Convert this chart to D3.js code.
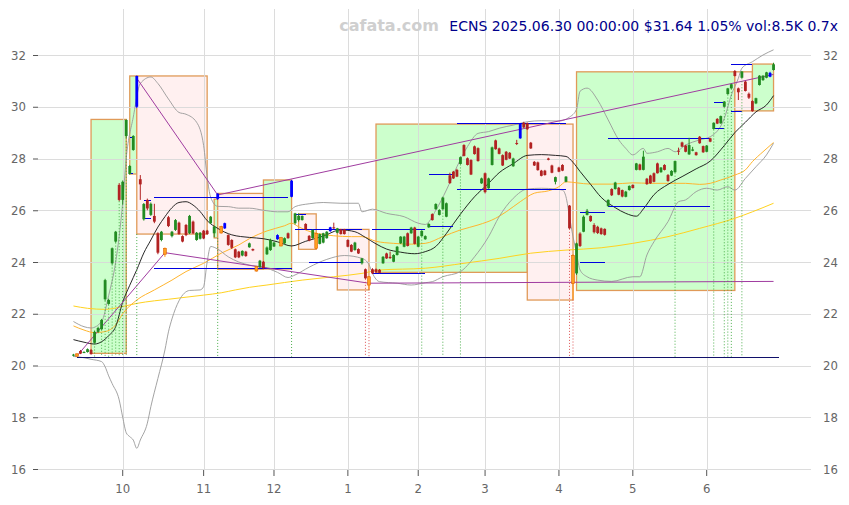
<!DOCTYPE html>
<html><head><meta charset="utf-8">
<script src="https://cdn.jsdelivr.net/npm/d3@7"></script>
<style>body{margin:0;background:#fff;} svg{display:block;}</style>
</head><body>
<svg id="c" width="849" height="505"></svg>
<script>
// ---------------- DATA ----------------
const firstDay = "2024-09-11", lastDay = "2025-06-30";
const holidays = ["2024-11-28","2024-12-25","2025-01-01","2025-01-09","2025-01-20","2025-02-17","2025-04-18","2025-05-26","2025-06-19"];
const monthLabels = ["10","11","12","1","2","3","4","5","6"];
const yTicks = [16,18,20,22,24,26,28,30,32];

const open = [
20.38,20.45,20.56,20.50,20.52,20.60,20.88,21.30,21.40,22.56,
22.38,23.95,24.79,26.98,26.40,28.87,27.40,28.33,30.00,27.20,
25.65,26.40,25.82,25.78,25.11,24.85,24.53,25.73,25.00,25.24,
25.52,25.00,25.43,25.11,25.56,24.85,24.90,25.21,25.21,25.50,
25.11,26.44,25.37,25.30,25.04,24.85,24.49,24.40,24.25,24.40,
24.57,24.50,23.82,23.80,24.01,24.30,24.46,24.60,24.88,24.94,
24.72,25.11,26.52,25.50,25.62,25.62,25.47,25.01,24.92,25.11,
24.70,24.75,24.92,25.19,25.34,25.13,25.26,25.26,24.85,24.66,
24.46,24.50,23.95,23.72,23.43,23.72,23.72,23.70,23.95,24.33,
24.20,24.01,24.27,24.72,24.59,25.11,25.11,25.33,24.59,25.00,
24.88,25.34,25.85,26.04,25.82,26.04,25.75,27.35,27.49,27.56,
27.79,28.52,28.01,27.94,28.47,28.40,27.04,27.43,26.85,27.75,
28.70,28.39,28.13,28.26,28.22,27.70,28.60,28.78,29.38,29.36,
28.61,27.87,27.85,27.53,27.53,28.00,27.73,27.10,27.65,27.75,
27.10,26.18,24.25,23.56,25.10,25.17,25.82,25.78,25.43,25.36,
25.30,25.28,26.16,26.82,26.82,26.87,26.78,26.52,26.78,26.98,
27.56,27.77,27.56,27.22,27.34,27.43,27.81,27.47,27.75,27.36,
27.34,27.47,28.30,28.62,28.50,28.16,28.30,28.24,28.84,28.48,
28.26,28.78,29.14,29.53,29.36,30.00,30.49,30.71,31.38,30.71,
31.12,30.97,30.50,30.22,30.13,30.84,31.03,31.12,31.16,31.42];
const high = [
20.45,20.48,20.60,20.55,20.66,20.64,21.35,21.50,21.80,23.35,
22.58,24.56,25.20,27.05,27.15,29.51,27.75,28.90,31.20,27.36,
26.28,26.45,26.30,26.25,25.15,25.20,24.56,25.78,25.20,25.66,
25.56,25.03,25.47,25.82,25.60,25.16,25.16,25.24,25.24,25.78,
25.40,26.66,25.40,25.52,25.07,24.88,24.52,24.43,24.45,24.43,
24.75,24.52,23.85,24.08,24.04,24.60,24.90,24.78,25.07,24.97,
24.95,25.14,27.17,25.90,25.88,25.80,25.50,25.04,25.26,25.14,
25.10,25.13,25.19,25.36,25.52,25.32,25.28,25.28,24.88,24.69,
24.78,24.53,24.16,23.75,23.46,23.76,23.75,23.73,24.23,24.36,
24.40,24.30,24.62,25.00,25.01,25.14,25.36,25.36,25.01,25.23,
25.03,25.50,25.88,26.27,26.04,26.52,26.30,27.45,27.52,27.60,
28.08,28.55,28.04,27.97,28.50,28.43,27.26,27.46,27.26,28.46,
28.73,28.42,28.16,28.29,28.25,28.03,28.72,29.36,29.42,29.39,
28.64,27.90,27.88,27.56,27.56,28.03,27.76,27.30,27.68,27.78,
27.32,26.20,24.30,24.75,25.15,25.80,26.05,25.80,25.50,25.40,
25.33,25.30,26.42,26.85,27.10,26.90,26.80,26.75,26.96,27.00,
27.83,27.80,28.30,27.25,27.37,27.46,27.84,27.67,27.78,27.40,
27.55,27.92,28.42,28.65,28.53,28.80,28.45,28.26,28.87,28.50,
28.52,28.80,29.40,29.56,29.66,30.22,30.73,30.89,31.42,30.74,
31.38,31.00,30.55,30.25,30.35,31.22,31.22,31.35,31.35,31.70];
const low = [
20.35,20.33,20.44,20.48,20.50,20.42,20.85,21.25,21.38,22.50,
22.35,23.90,24.75,26.35,26.24,28.80,27.38,28.30,29.95,26.40,
25.60,26.00,25.78,25.50,24.30,24.80,24.20,25.35,24.95,25.20,
25.05,24.76,25.00,25.08,25.08,24.82,24.87,24.88,25.05,25.47,
24.95,26.40,25.10,25.28,24.63,24.50,24.15,24.15,24.22,24.20,
24.55,24.42,23.63,23.76,23.74,24.27,24.43,24.58,24.86,24.60,
24.70,24.90,26.50,25.45,25.56,25.60,25.24,24.80,24.90,24.50,
24.68,24.72,24.90,25.17,25.28,25.11,25.06,25.06,24.57,24.38,
24.44,24.31,23.90,23.35,22.95,23.54,23.58,23.56,23.93,24.12,
24.12,23.99,24.25,24.70,24.57,24.60,25.09,24.68,24.57,24.98,
24.86,25.32,25.60,26.02,25.80,26.02,25.73,27.02,27.21,27.28,
27.77,28.08,27.73,27.36,28.15,27.88,27.02,26.65,26.83,27.73,
28.34,28.16,27.71,27.93,27.98,27.68,28.52,28.76,29.18,29.11,
28.37,27.71,27.53,27.31,27.34,27.93,27.43,27.00,27.47,27.51,
27.08,25.28,22.55,23.50,24.58,25.15,25.80,25.55,25.10,25.08,
25.05,25.02,26.14,26.55,26.80,26.58,26.50,26.50,26.76,26.84,
27.54,27.54,27.54,26.98,27.02,27.08,27.42,27.45,27.54,27.10,
27.32,27.45,28.14,28.44,28.24,28.14,28.28,28.11,28.57,28.22,
28.24,28.63,29.12,29.33,29.34,29.98,30.47,30.69,31.17,30.26,
31.10,30.59,30.30,29.81,30.10,30.82,31.00,31.10,31.14,31.40];
const close = [
20.42,20.36,20.46,20.52,20.63,20.44,21.30,21.45,21.76,23.30,
22.53,24.53,25.17,26.40,27.10,29.49,27.71,28.87,31.19,27.00,
26.24,26.07,26.25,25.56,24.36,25.17,24.30,25.39,25.17,25.62,
25.08,24.79,25.04,25.78,25.11,25.13,25.13,24.91,25.08,25.75,
25.37,26.64,25.12,25.50,24.66,24.55,24.18,24.18,24.43,24.23,
24.72,24.45,23.65,24.05,23.76,24.56,24.85,24.75,25.04,24.62,
24.92,24.92,27.14,25.88,25.78,25.78,25.26,24.83,25.24,24.53,
25.08,25.11,25.17,25.34,25.30,25.30,25.08,25.08,24.59,24.40,
24.75,24.33,24.14,23.37,23.11,23.56,23.60,23.58,24.20,24.14,
24.15,24.27,24.59,24.98,24.98,24.62,25.33,24.70,24.98,25.20,
25.00,25.47,25.62,26.24,26.01,26.49,26.27,27.05,27.23,27.30,
28.05,28.10,27.75,27.38,28.17,27.90,27.23,26.70,27.23,28.43,
28.36,28.18,27.73,27.95,28.00,28.00,28.56,29.33,29.20,29.13,
28.39,27.73,27.55,27.33,27.36,27.95,27.45,27.28,27.49,27.53,
27.30,25.30,23.17,24.72,24.62,25.75,25.98,25.58,25.15,25.12,
25.08,25.05,26.40,26.58,27.07,26.60,26.53,26.72,26.94,26.86,
27.81,27.56,28.07,27.01,27.04,27.10,27.43,27.65,27.56,27.13,
27.52,27.90,28.28,28.46,28.26,28.52,28.35,28.13,28.59,28.24,
28.50,28.65,29.38,29.35,29.64,30.20,30.71,30.87,31.19,30.56,
31.36,30.61,30.35,29.83,30.33,31.20,31.20,31.33,31.31,31.64];

// highlighted candles
const blueCandles = [18,41,43,58,62,73,127,198];
const orangeCandles = [1,26,42,52,59,69,84,142];

// boxes: [startIdx, endIdx, price1, price2, kind]
const boxes = [
 [5,15,20.47,29.51,"up"],[16,18,27.40,31.19,"up"],[18,38,31.19,25.08,"down"],
 [40,41,24.93,26.43,"up"],[41,54,26.65,23.72,"down"],[54,62,23.73,27.17,"up"],
 [64,69,25.86,24.49,"down"],[75,84,25.26,22.92,"down"],[86,129,23.60,29.33,"up"],
 [129,142,29.33,22.53,"down"],[143,188,22.90,31.35,"up"],[188,193,31.35,29.84,"down"],
 [193,199,29.84,31.65,"up"]];

// horizontal levels: [startIdx, endIdx, price]
const levels = [
 [16,17,28.82],[16,17,27.43],[20,22,26.40],[20,22,25.69],[23,61,26.50],[23,62,23.76],
 [63,66,25.86],[63,82,25.29],[67,82,24.00],[85,100,25.26],[85,100,23.56],
 [101,108,27.40],[101,108,25.39],[109,140,26.81],[109,140,29.36],
 [144,151,25.92],[144,151,23.99],[152,181,28.78],[152,181,26.18],
 [182,185,29.17],[182,185,30.17],[187,193,31.64],[187,190,29.84]];
const lowestLine = [1,199,20.34];

// trend lines: [i1, p1, i2, p2]
const trendLines = [
 [1,20.37,26,24.36],[26,24.36,84,23.18],[84,23.18,199,23.25],
 [18,31.10,41,26.59],[41,26.59,199,31.25]];

// signal dotted lines: [idx, fromPrice, kind]
const signals = [
 [6,20.85,"g"],[8,21.38,"g"],[9,22.50,"g"],[10,22.35,"g"],[11,23.90,"g"],[12,24.75,"g"],
 [13,26.35,"g"],[14,26.24,"g"],[15,28.80,"g"],[18,25.08,"g"],[41,24.93,"g"],[62,23.73,"g"],
 [83,23.35,"r"],[84,22.95,"r"],[99,24.98,"g"],[105,26.02,"g"],[110,27.77,"g"],
 [141,25.28,"r"],[142,22.55,"r"],[171,27.45,"g"],[182,29.12,"g"],[185,29.98,"g"],
 [186,30.47,"g"],[187,30.69,"g"],[190,31.10,"g"]];
const signalBase = 20.34;

// indicator lines: [idx, value]
const ma20 = [[0,21.0],[3,20.9],[6,20.83],[8,20.92],[10,21.15],[12,21.5],[14,22.45],[16,23.1],[18,23.7],[20,24.35],[22,24.85],[24,25.35],[26,25.75],[28,26.1],[30,26.3],[32,26.33],[34,26.2],[36,25.95],[38,25.6],[41,25.3],[45,25.05],[50,24.95],[54,24.9],[58,24.78],[62,24.62],[66,24.8],[71,25.0],[76,25.24],[80,25.17],[83,24.95],[86,24.7],[89,24.5],[93,24.38],[97,24.32],[100,24.4],[103,24.6],[106,25.1],[110,25.85],[114,26.52],[118,27.04],[121,27.45],[125,27.8],[129,28.12],[133,28.15],[137,28.12],[140,28.08],[142,27.85],[144,27.5],[147,27.0],[150,26.5],[154,26.1],[157,25.88],[160,25.77],[162,26.05],[165,26.6],[169,27.0],[173,27.3],[177,27.6],[181,27.9],[185,28.5],[188,29.0],[191,29.4],[194,29.8],[197,30.07],[199,30.43]];
const bbUpper = [[0,21.7],[3,21.5],[5,21.45],[8,21.7],[10,22.7],[12,24.0],[13,25.0],[14,26.3],[15,28.0],[17,29.6],[19,30.9],[22,31.15],[24,30.9],[27,30.3],[30,29.78],[32,29.71],[35,29.4],[37,28.5],[38,27.3],[39,26.5],[41,26.15],[44,26.14],[47,26.08],[50,26.08],[54,26.0],[58,25.94],[61,25.94],[63,26.14],[67,26.25],[71,26.3],[76,26.27],[81,26.27],[82,25.94],[85,26.04],[89,25.88],[94,25.75],[98,25.5],[100,25.45],[103,26.0],[106,26.78],[109,27.68],[112,28.46],[115,28.97],[118,29.04],[121,29.17],[125,29.29],[129,29.42],[133,29.46],[138,29.45],[141,29.6],[143,29.9],[144,30.6],[146,30.72],[149,30.26],[152,29.49],[155,28.72],[157,28.39],[159,28.14],[162,28.39],[163,28.2],[166,28.26],[169,28.39],[171,28.26],[174,28.52],[178,28.72],[181,28.84],[185,29.55],[187,30.45],[189,31.1],[190,31.49],[193,31.74],[196,32.0],[199,32.2]];
const bbLower = [[0,20.35],[3,20.3],[5,20.24],[8,20.15],[9,19.95],[10,19.6],[11,19.3],[13,18.67],[14,18.0],[15,17.4],[16,17.25],[17,17.12],[18,16.8],[19,17.12],[21,17.77],[22,18.41],[24,19.5],[26,20.6],[27,21.3],[28,21.8],[30,22.5],[33,22.9],[36,22.92],[37,23.05],[38,24.0],[39,24.6],[41,24.5],[44,24.2],[47,24.0],[50,23.88],[54,23.8],[58,23.6],[61,23.4],[63,23.5],[67,23.8],[72,24.1],[77,24.25],[82,24.14],[84,23.9],[85,23.56],[87,23.24],[92,23.18],[96,23.11],[100,23.2],[102,23.24],[105,23.43],[110,23.63],[114,24.2],[118,24.98],[121,25.75],[125,26.46],[129,26.82],[133,26.85],[137,26.82],[139,26.78],[140,26.52],[141,25.75],[142,24.98],[143,24.34],[144,23.69],[146,23.43],[149,23.3],[153,23.25],[159,23.43],[161,23.43],[163,24.27],[165,24.78],[169,25.56],[172,26.33],[174,26.4],[177,26.72],[180,26.85],[183,26.78],[186,26.91],[188,26.78],[191,27.23],[194,27.68],[197,28.14],[199,28.59]];
const ma50 = [[0,21.53],[3,21.37],[6,21.27],[9,21.31],[12,21.57],[14,22.0],[18,22.53],[23,22.92],[28,23.3],[32,23.63],[37,23.95],[42,24.34],[47,24.66],[50,24.9],[55,25.2],[60,25.4],[62,25.5],[64,25.36],[69,25.11],[79,24.98],[82,24.98],[86,24.8],[91,24.72],[96,24.69],[100,24.72],[105,24.98],[110,25.24],[115,25.43],[120,25.69],[123,25.94],[127,26.33],[131,26.66],[135,26.75],[138,26.91],[140,27.1],[143,27.06],[147,27.01],[153,27.01],[159,27.06],[164,27.04],[174,27.04],[178,27.0],[181,27.04],[184,27.17],[188,27.36],[191,27.56],[193,27.88],[196,28.26],[199,28.62]];
const ma200 = [[0,22.3],[4,22.21],[9,22.17],[13,22.25],[18,22.4],[23,22.5],[27,22.56],[32,22.64],[37,22.72],[42,22.81],[46,22.92],[50,23.02],[55,23.11],[65,23.3],[74,23.43],[82,23.56],[87,23.69],[100,23.76],[111,23.95],[121,24.14],[130,24.34],[140,24.46],[150,24.55],[159,24.72],[169,24.98],[178,25.3],[188,25.69],[193,25.94],[199,26.27]];

const titleText = "ECNS 2025.06.30 00:00:00 $31.64 1.05% vol:8.5K 0.7x";
const watermark = "cafata.com";

// ---------------- CHART ----------------
function tradingDays(a, b){
  const out = [];
  const d = new Date(a + "T00:00:00Z"), e = new Date(b + "T00:00:00Z");
  while (d <= e) {
    const s = d.toISOString().slice(0,10), wd = d.getUTCDay();
    if (wd !== 0 && wd !== 6 && !holidays.includes(s)) out.push(s);
    d.setUTCDate(d.getUTCDate() + 1);
  }
  return out;
}
const dates = tradingDays(firstDay, lastDay);
const candles = dates.map((d,i)=>({date:d,i,o:open[i],h:high[i],l:low[i],c:close[i]}));

const svg = d3.select("#c");
const x = d3.scaleBand().domain(dates).range([71.7, 775.3]).padding(0);
const y = d3.scaleLinear().domain([16,32]).range([469,55]);
const xi = i => x(dates[i]) + x.bandwidth()/2;
const plotL = 38, plotR = 811, plotT = 9;
const crisp = v => Math.round(v) + 0.5;

const monthStarts = [];
dates.forEach((d,i)=>{ if(i>0 && d.slice(5,7)!==dates[i-1].slice(5,7)) monthStarts.push(d); });

// boxes
svg.append("g").selectAll("rect").data(boxes).join("rect")
  .attr("x", d=>xi(d[0])).attr("width", d=>xi(d[1])-xi(d[0]))
  .attr("y", d=>y(Math.max(d[2],d[3]))).attr("height", d=>Math.abs(y(d[2])-y(d[3])))
  .attr("fill", d=>d[4]==="up" ? "#ccffcc" : "#fff0f0")
  .attr("stroke", "#e09a58").attr("stroke-width", 1.3);

// grid
const grid = svg.append("g").attr("stroke","#d9d9d9").attr("stroke-width",1).attr("opacity",0.9);
grid.selectAll(".h").data(yTicks).join("line").attr("class","h")
  .attr("x1",plotL).attr("x2",plotR).attr("y1",d=>crisp(y(d))).attr("y2",d=>crisp(y(d)));
grid.selectAll(".v").data(monthStarts).join("line").attr("class","v")
  .attr("x1",d=>crisp(x(d)+x.bandwidth()/2)).attr("x2",d=>crisp(x(d)+x.bandwidth()/2))
  .attr("y1",plotT).attr("y2",y(16));

// axes
const axisFont = "'DejaVu Sans Condensed','DejaVu Sans',sans-serif";
function styleAxis(g){
  g.select(".domain").remove();
  g.selectAll("text").attr("fill","#666").style("font-family",axisFont).style("font-size","13px");
  g.selectAll(".tick line").attr("stroke","#555");
}
svg.append("g").attr("transform",`translate(${plotL},0)`)
  .call(d3.axisLeft(y).tickValues(yTicks).tickSize(5).tickPadding(7)).call(styleAxis);
svg.append("g").attr("transform",`translate(${plotR},0)`)
  .call(d3.axisRight(y).tickValues(yTicks).tickSize(0).tickPadding(12)).call(styleAxis);
svg.append("g").attr("transform",`translate(0,${y(16)+1})`)
  .call(d3.axisBottom(x).tickValues(monthStarts).tickFormat((d,k)=>monthLabels[k]).tickSize(6).tickPadding(8))
  .call(styleAxis);

// indicator lines
const line = d3.line().x(d=>xi(d[0])).y(d=>y(d[1])).curve(d3.curveMonotoneX);
const ind = svg.append("g").attr("fill","none");
ind.append("path").attr("d",line(ma200)).attr("stroke","#ffd21f").attr("stroke-width",1);
ind.append("path").attr("d",line(ma50)).attr("stroke","#ffb52e").attr("stroke-width",1);
ind.append("path").attr("d",line(bbUpper)).attr("stroke","#999").attr("stroke-width",0.9);
ind.append("path").attr("d",line(bbLower)).attr("stroke","#999").attr("stroke-width",0.9);
ind.append("path").attr("d",line(ma20)).attr("stroke","#111").attr("stroke-width",0.9);

// levels
svg.append("g").attr("shape-rendering","crispEdges").selectAll("line").data(levels).join("line")
  .attr("x1",d=>xi(d[0])).attr("x2",d=>xi(d[1]))
  .attr("y1",d=>crisp(y(d[2]))).attr("y2",d=>crisp(y(d[2])))
  .attr("stroke","#0000e0").attr("stroke-width",1);
svg.append("line").attr("shape-rendering","crispEdges")
  .attr("x1",xi(lowestLine[0])).attr("x2",xi(lowestLine[1])+5)
  .attr("y1",crisp(y(lowestLine[2]))).attr("y2",crisp(y(lowestLine[2])))
  .attr("stroke","#10106a").attr("stroke-width",1);

// trend lines
svg.append("g").selectAll("line").data(trendLines).join("line")
  .attr("x1",d=>xi(d[0])).attr("y1",d=>y(d[1])).attr("x2",d=>xi(d[2])).attr("y2",d=>y(d[3]))
  .attr("stroke","#a03ca0").attr("stroke-width",1);

// signals
svg.append("g").selectAll("line").data(signals).join("line")
  .attr("x1",d=>xi(d[0])).attr("x2",d=>xi(d[0]))
  .attr("y1",d=>y(d[1])).attr("y2",y(signalBase))
  .attr("stroke",d=>d[2]==="g"?"#3aa63a":"#d94040").attr("stroke-width",0.9)
  .attr("stroke-dasharray","1,2");

// candles
const bw = x.bandwidth()*0.8;
const colorOf = d => blueCandles.includes(d.i) ? "#0000ff" : (d.c>=d.o ? "#228b22" : "#b22222");
const cg = svg.append("g");
cg.selectAll("line").data(candles).join("line")
  .attr("x1",d=>xi(d.i)).attr("x2",d=>xi(d.i))
  .attr("y1",d=>y(d.h)).attr("y2",d=>y(d.l))
  .attr("stroke",d=>orangeCandles.includes(d.i)?"#ff8c00":colorOf(d)).attr("stroke-width",1);
cg.selectAll("rect").data(candles).join("rect")
  .attr("x",d=>xi(d.i)-bw/2).attr("width",bw)
  .attr("y",d=>y(Math.max(d.o,d.c)))
  .attr("height",d=>Math.max(1,Math.abs(y(d.o)-y(d.c))))
  .attr("fill",d=>orangeCandles.includes(d.i)?"#ffa020":colorOf(d))
  .attr("stroke",d=>orangeCandles.includes(d.i)?"#e06000":"none")
  .attr("stroke-width",0.6);

// texts
svg.append("text").attr("x",389).attr("y",31).attr("text-anchor","middle")
  .style("font-family","'DejaVu Sans',sans-serif").style("font-size","16px").style("font-weight","bold")
  .attr("fill","#cfcfcf").text(watermark);
svg.append("text").attr("x",838).attr("y",31).attr("text-anchor","end")
  .style("font-family","'DejaVu Sans',sans-serif").style("font-size","14px")
  .attr("fill","#00008b").text(titleText);
</script>
</body></html>
